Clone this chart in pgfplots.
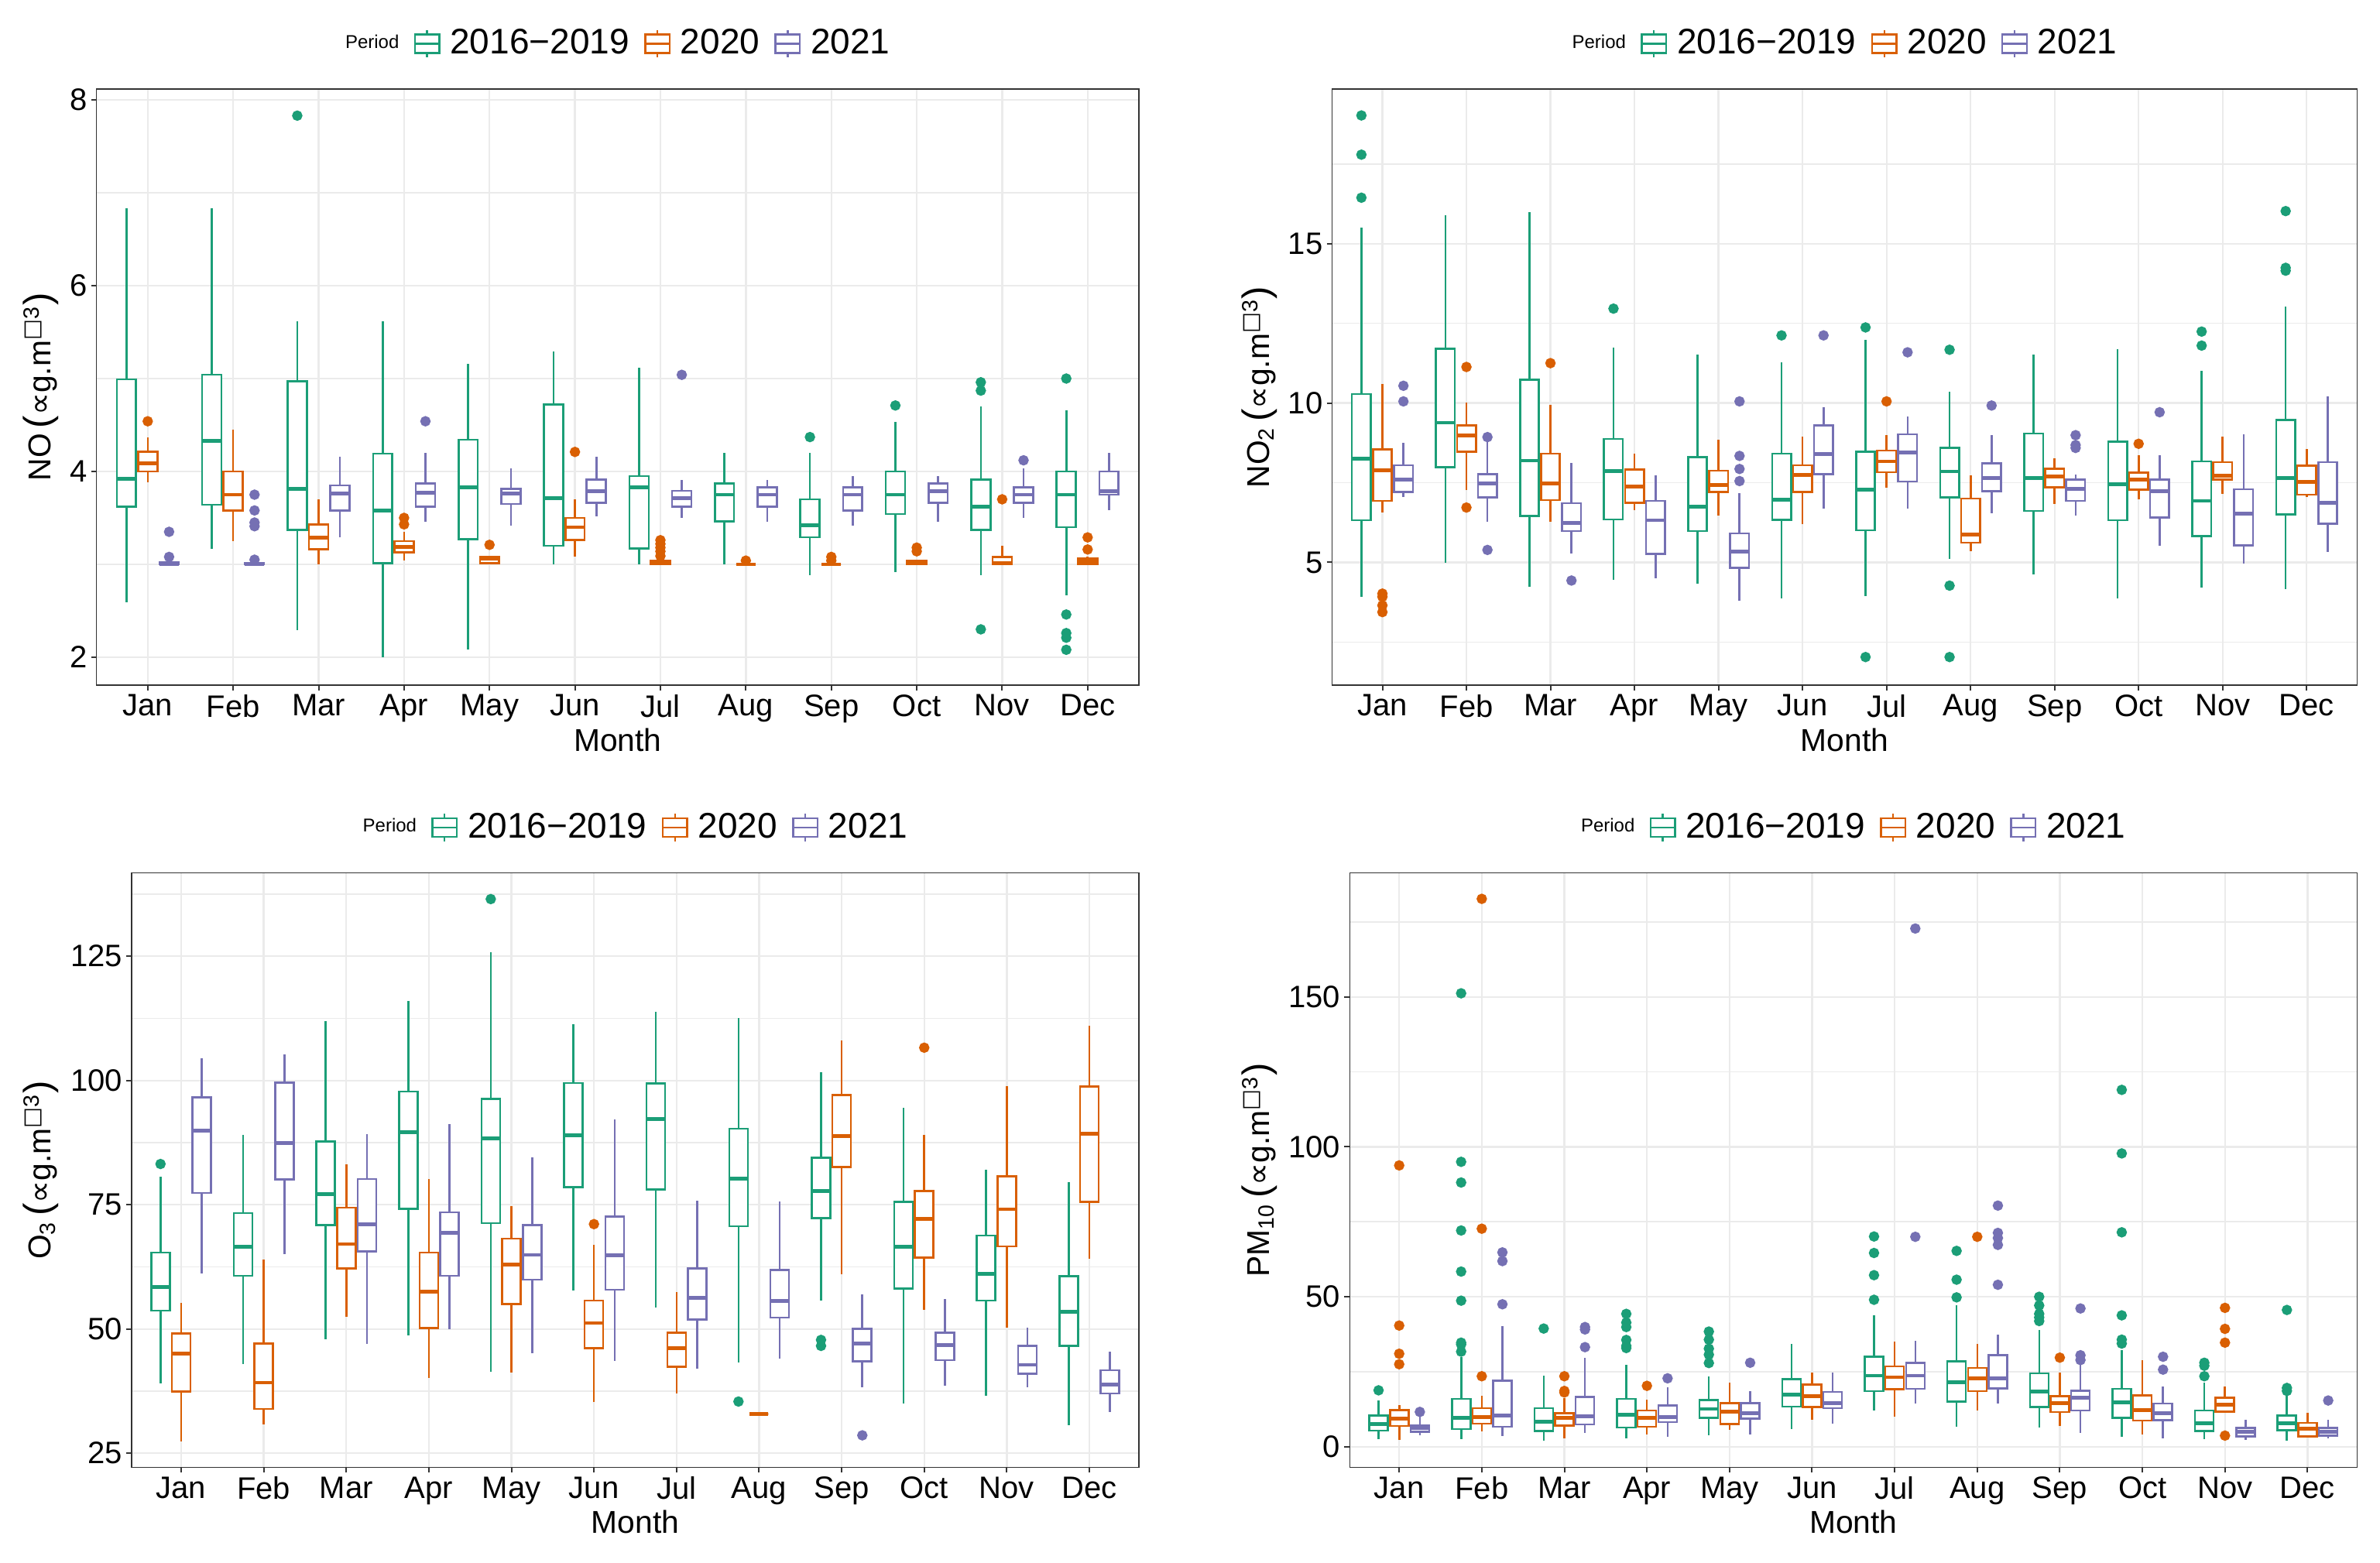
\documentclass[border=0pt]{standalone}
\usepackage{fontspec}
\setmainfont{Liberation Sans}
\newfontfamily\dv{DejaVu Sans}
\usepackage{pgfplots}
\pgfplotsset{compat=1.18}
\usepgfplotslibrary{statistics}
\definecolor{c1}{HTML}{1B9E77}
\definecolor{c2}{HTML}{D95F02}
\definecolor{c3}{HTML}{7570B3}
\definecolor{g20}{gray}{0.2}
\definecolor{g92}{gray}{0.92}
\newcommand{\unitlab}{{\fontsize{12.3}{12}\selectfont (}{\dv ∝}g.m\textsuperscript{{\dv □}3}{\fontsize{12.3}{12}\selectfont )}}
\newcommand{\bx}[7]{\addplot[#1, line width=0.65pt, mark=*, mark size=1.35pt, mark options={draw=none,fill=#1}, boxplot prepared={draw position=#2, lower whisker=#3, lower quartile=#4, median=#5, upper quartile=#6, upper whisker=#7}] coordinates {};}
\newcommand{\bxo}[8]{\addplot[#1, line width=0.65pt, mark=*, mark size=1.35pt, mark options={draw=none,fill=#1}, boxplot prepared={draw position=#2, lower whisker=#3, lower quartile=#4, median=#5, upper quartile=#6, upper whisker=#7}] table[row sep=\\, y index=0, header=false] {#8};}
\newcommand{\legbox}[1]{\draw[#1,line width=0.6pt] (0pt,-3pt) rectangle (7.9pt,3pt) (0pt,0pt)--(7.9pt,0pt) (3.95pt,3pt)--(3.95pt,4.4pt) (3.95pt,-3pt)--(3.95pt,-4.4pt);}
\newcommand{\periodlegend}{%
\addlegendimage{empty legend}\addlegendentry{\fontsize{6}{7}\selectfont Period}%
\addlegendimage{legend image code/.code={\legbox{c1}}}\addlegendentry{2016−2019}%
\addlegendimage{legend image code/.code={\legbox{c2}}}\addlegendentry{2020}%
\addlegendimage{legend image code/.code={\legbox{c3}}}\addlegendentry{2021}}
\pgfplotsset{panel/.style={
  scale only axis, anchor=south west,
  xmin=0.4, xmax=12.6,
  xtick={1,2,3,4,5,6,7,8,9,10,11,12},
  xticklabels={Jan,Feb,Mar,Apr,May,Jun,Jul,Aug,Sep,Oct,Nov,Dec},
  xmajorgrids, ymajorgrids, yminorgrids,
  major grid style={color=g92, line width=0.58pt},
  minor grid style={color=g92, line width=0.4pt},
  axis line style={color=g20, line width=0.35pt},
  tick style={color=g20, line width=0.5pt},
  tick align=outside, major tick length=1.7pt, minor tick length=0pt,
  tick pos=left,
  /pgf/number format/assume math mode=true,
  tick label style={font=\fontsize{10}{11}\selectfont, text=black},
  xticklabel style={yshift=2.2pt},
  yticklabel style={xshift=2.2pt},
  label style={font=\fontsize{10.2}{12}\selectfont},
  xlabel={Month},
  xlabel style={at={(axis description cs:0.5,0)}, anchor=base, yshift=-21.3pt},
  boxplot/draw direction=y,
  boxplot/box extend=0.225, boxplot/whisker extend=0,
  boxplot/every box/.append style={fill=white},
  boxplot/every median/.append style={line width=1.2pt},
  legend columns=-1,
  legend style={at={(0.5,1)}, anchor=center, yshift=14.6pt, draw=none, fill=none,
    font=\fontsize{11.5}{13}\selectfont, nodes={inner ysep=1.5pt, inner xsep=3.2pt},
    /tikz/every even column/.append style={column sep=1.6pt}},
}}
\begin{document}
\begin{tikzpicture}
\useasboundingbox (0,0) rectangle (768.5pt,504.75pt);
% ---------------- NO ----------------
\begin{axis}[panel, at={(31.15pt,283.5pt)}, width=336.6pt, height=192.5pt,
  ymin=1.70, ymax=8.117, ytick={2,4,6,8}, minor ytick={3,5,7},
  ylabel={NO\,\unitlab}, ylabel style={at={(axis description cs:-0.044,0.5)}, anchor=base, inner sep=0pt}]
\periodlegend
\bx{c1}{0.75}{2.59}{3.62}{3.92}{4.99}{6.83}
\bxo{c2}{1}{3.88}{4.0}{4.09}{4.21}{4.37}{4.54\\}
\bxo{c3}{1.25}{3.0}{3.0}{3.0}{3.02}{3.02}{3.35\\3.08\\}
\bx{c1}{1.75}{3.17}{3.64}{4.33}{5.04}{6.83}
\bx{c2}{2}{3.25}{3.58}{3.75}{4.0}{4.45}
\bxo{c3}{2.25}{3.0}{3.0}{3.0}{3.01}{3.01}{3.75\\3.58\\3.45\\3.41\\3.05\\}
\bxo{c1}{2.75}{2.29}{3.37}{3.81}{4.97}{5.62}{7.83\\}
\bx{c2}{3}{3.0}{3.16}{3.29}{3.43}{3.70}
\bx{c3}{3.25}{3.29}{3.58}{3.76}{3.85}{4.16}
\bx{c1}{3.75}{2.0}{3.01}{3.58}{4.19}{5.62}
\bxo{c2}{4}{3.04}{3.13}{3.19}{3.25}{3.35}{3.50\\3.43\\}
\bxo{c3}{4.25}{3.46}{3.62}{3.77}{3.87}{4.20}{4.54\\}
\bx{c1}{4.75}{2.08}{3.27}{3.83}{4.34}{5.16}
\bxo{c2}{5}{3.0}{3.01}{3.06}{3.08}{3.08}{3.21\\}
\bx{c3}{5.25}{3.42}{3.65}{3.76}{3.81}{4.03}
\bx{c1}{5.75}{3.0}{3.20}{3.71}{4.72}{5.29}
\bxo{c2}{6}{3.08}{3.26}{3.40}{3.50}{3.70}{4.21\\}
\bx{c3}{6.25}{3.52}{3.66}{3.79}{3.91}{4.16}
\bx{c1}{6.75}{3.0}{3.17}{3.83}{3.95}{5.12}
\bxo{c2}{7}{3.0}{3.0}{3.02}{3.04}{3.06}{3.26\\3.22\\3.18\\3.14\\3.09\\}
\bxo{c3}{7.25}{3.50}{3.62}{3.71}{3.79}{3.91}{5.04\\}
\bx{c1}{7.75}{3.0}{3.46}{3.75}{3.87}{4.20}
\bxo{c2}{8}{3.0}{3.0}{3.0}{3.0}{3.0}{3.04\\}
\bx{c3}{8.25}{3.46}{3.62}{3.75}{3.83}{3.91}
\bxo{c1}{8.75}{2.88}{3.29}{3.42}{3.70}{4.20}{4.37\\}
\bxo{c2}{9}{3.0}{3.0}{3.0}{3.0}{3.0}{3.08\\3.04\\}
\bx{c3}{9.25}{3.42}{3.58}{3.75}{3.83}{3.95}
\bxo{c1}{9.75}{2.92}{3.54}{3.75}{4.0}{4.53}{4.71\\}
\bxo{c2}{10}{3.0}{3.0}{3.02}{3.04}{3.04}{3.18\\3.14\\}
\bx{c3}{10.25}{3.46}{3.66}{3.79}{3.87}{3.95}
\bxo{c1}{10.75}{2.88}{3.37}{3.62}{3.91}{4.70}{4.96\\4.87\\2.30\\}
\bxo{c2}{11}{3.0}{3.0}{3.01}{3.08}{3.20}{3.70\\}
\bxo{c3}{11.25}{3.50}{3.66}{3.75}{3.83}{4.03}{4.12\\}
\bxo{c1}{11.75}{2.67}{3.40}{3.75}{4.0}{4.66}{5.0\\2.46\\2.26\\2.21\\2.08\\}
\bxo{c2}{12}{3.0}{3.0}{3.03}{3.06}{3.08}{3.29\\3.16\\}
\bx{c3}{12.25}{3.58}{3.75}{3.79}{4.0}{4.20}
\end{axis}
% ---------------- NO2 ----------------
\begin{axis}[panel, at={(430.1pt,283.5pt)}, width=331pt, height=192.5pt,
  ymin=1.15, ymax=19.85, ytick={5,10,15}, minor ytick={2.5,7.5,12.5,17.5},
  ylabel={NO\textsubscript{2}\,\unitlab}, ylabel style={at={(axis description cs:-0.0615,0.5)}, anchor=base, inner sep=0pt}]
\periodlegend
\bxo{c1}{0.75}{3.92}{6.32}{8.25}{10.28}{15.51}{19.02\\17.79\\16.44\\}
\bxo{c2}{1}{6.56}{6.93}{7.89}{8.54}{10.59}{4.02\\3.92\\3.65\\3.44\\}
\bxo{c3}{1.25}{7.04}{7.21}{7.59}{8.05}{8.75}{10.54\\10.05\\}
\bx{c1}{1.75}{4.98}{7.99}{9.38}{11.70}{15.88}
\bxo{c2}{2}{7.28}{8.47}{8.98}{9.30}{10.02}{11.13\\6.72\\}
\bxo{c3}{2.25}{6.28}{7.04}{7.48}{7.76}{8.8}{8.93\\5.39\\}
\bx{c1}{2.75}{4.24}{6.46}{8.19}{10.73}{15.98}
\bxo{c2}{3}{6.28}{6.95}{7.48}{8.41}{9.95}{11.25\\}
\bxo{c3}{3.25}{5.28}{5.98}{6.24}{6.86}{8.11}{4.43\\}
\bxo{c1}{3.75}{4.44}{6.35}{7.86}{8.87}{11.73}{12.96\\}
\bx{c2}{4}{6.63}{6.87}{7.38}{7.91}{8.41}
\bx{c3}{4.25}{4.50}{5.26}{6.32}{6.93}{7.74}
\bx{c1}{4.75}{4.33}{5.98}{6.75}{8.30}{11.53}
\bx{c2}{5}{6.46}{7.21}{7.43}{7.88}{8.84}
\bxo{c3}{5.25}{3.79}{4.83}{5.33}{5.91}{7.17}{10.05\\8.34\\7.93\\7.55\\}
\bxo{c1}{5.75}{3.87}{6.33}{6.97}{8.41}{11.27}{12.12\\}
\bx{c2}{6}{6.19}{7.21}{7.74}{8.05}{8.95}
\bxo{c3}{6.25}{6.69}{7.76}{8.39}{9.30}{9.86}{12.12\\}
\bxo{c1}{6.75}{3.95}{6.01}{7.29}{8.47}{11.98}{12.37\\2.03\\}
\bxo{c2}{7}{7.35}{7.83}{8.17}{8.51}{8.99}{10.05\\}
\bxo{c3}{7.25}{6.69}{7.54}{8.44}{9.02}{9.57}{11.59\\}
\bxo{c1}{7.75}{5.11}{7.04}{7.85}{8.59}{10.36}{11.67\\4.27\\2.03\\}
\bx{c2}{8}{5.34}{5.62}{5.88}{7.0}{7.74}
\bxo{c3}{8.25}{6.55}{7.23}{7.65}{8.10}{8.99}{9.92\\}
\bx{c1}{8.75}{4.63}{6.61}{7.65}{9.04}{11.53}
\bx{c2}{9}{6.84}{7.35}{7.69}{7.94}{8.27}
\bxo{c3}{9.25}{6.47}{6.93}{7.31}{7.59}{7.76}{8.99\\8.68\\8.59\\}
\bx{c1}{9.75}{3.87}{6.32}{7.46}{8.79}{11.69}
\bxo{c2}{10}{6.98}{7.28}{7.59}{7.82}{8.36}{8.72\\}
\bxo{c3}{10.25}{5.53}{6.41}{7.23}{7.59}{8.36}{9.71\\}
\bxo{c1}{10.75}{4.20}{5.82}{6.93}{8.17}{11.02}{12.24\\11.80\\}
\bx{c2}{11}{7.15}{7.60}{7.72}{8.14}{8.95}
\bx{c3}{11.25}{4.95}{5.54}{6.52}{7.29}{9.02}
\bxo{c1}{11.75}{4.16}{6.50}{7.65}{9.46}{13.02}{16.02\\14.24\\14.15\\}
\bx{c2}{12}{7.04}{7.12}{7.52}{8.03}{8.56}
\bx{c3}{12.25}{5.33}{6.21}{6.86}{8.14}{10.20}
\end{axis}
% ---------------- O3 ----------------
\begin{axis}[panel, at={(42.5pt,30.9pt)}, width=325.25pt, height=192pt,
  ymin=22.17, ymax=141.8, ytick={25,50,75,100,125}, minor ytick={37.5,62.5,87.5,112.5,137.5},
  ylabel={O\textsubscript{3}\,\unitlab}, ylabel style={at={(axis description cs:-0.0804,0.5)}, anchor=base, inner sep=0pt}]
\periodlegend
\bxo{c1}{0.75}{39.0}{53.7}{58.4}{65.4}{80.6}{83.2\\}
\bx{c2}{1}{27.4}{37.4}{45.0}{49.1}{55.2}
\bx{c3}{1.25}{61.2}{77.4}{89.9}{96.6}{104.5}
\bx{c1}{1.75}{42.9}{60.7}{66.6}{73.3}{89.1}
\bx{c2}{2}{30.8}{33.9}{39.2}{47.1}{64.0}
\bx{c3}{2.25}{65.0}{80.1}{87.4}{99.6}{105.3}
\bx{c1}{2.75}{48.0}{70.9}{77.1}{87.7}{111.9}
\bx{c2}{3}{52.5}{62.2}{67.1}{74.4}{83.2}
\bx{c3}{3.25}{47.0}{65.6}{71.1}{80.2}{89.2}
\bx{c1}{3.75}{48.7}{74.2}{89.6}{97.8}{116.0}
\bx{c2}{4}{40.1}{50.2}{57.5}{65.4}{80.1}
\bx{c3}{4.25}{49.9}{60.7}{69.3}{73.5}{91.3}
\bxo{c1}{4.75}{41.4}{71.3}{88.3}{96.3}{125.8}{136.5\\}
\bx{c2}{5}{41.2}{55.0}{63.0}{68.2}{74.8}
\bx{c3}{5.25}{45.1}{59.9}{64.9}{70.9}{84.5}
\bx{c1}{5.75}{57.7}{78.5}{89.0}{99.5}{111.4}
\bxo{c2}{6}{35.3}{46.1}{51.2}{55.7}{67.0}{71.1\\}
\bx{c3}{6.25}{43.5}{57.9}{64.8}{72.6}{92.1}
\bx{c1}{6.75}{54.3}{78.1}{92.3}{99.4}{113.8}
\bx{c2}{7}{37.0}{42.4}{46.1}{49.3}{57.5}
\bx{c3}{7.25}{42.0}{51.9}{56.3}{62.2}{75.8}
\bxo{c1}{7.75}{43.2}{70.7}{80.3}{90.3}{112.6}{35.4\\}
\bx{c2}{8}{32.9}{32.9}{32.9}{32.9}{32.9}
\bx{c3}{8.25}{44.0}{52.3}{55.6}{61.9}{75.7}
\bxo{c1}{8.75}{55.7}{72.3}{77.8}{84.5}{101.6}{47.8\\46.6\\}
\bx{c2}{9}{61.0}{82.6}{88.8}{97.1}{108.0}
\bxo{c3}{9.25}{38.3}{43.5}{47.1}{50.0}{57.0}{28.6\\}
\bx{c1}{9.75}{35.0}{58.1}{66.5}{75.6}{94.5}
\bxo{c2}{10}{53.9}{64.4}{72.1}{77.8}{89.1}{106.6\\}
\bx{c3}{10.25}{38.6}{43.7}{46.8}{49.3}{56.0}
\bx{c1}{10.75}{36.5}{55.7}{61.1}{68.8}{82.0}
\bx{c2}{11}{50.2}{66.6}{74.1}{80.7}{98.9}
\bx{c3}{11.25}{38.2}{41.0}{42.8}{46.6}{50.2}
\bx{c1}{11.75}{30.6}{46.6}{53.5}{60.6}{79.5}
\bx{c2}{12}{64.2}{75.6}{89.3}{98.8}{111.0}
\bx{c3}{12.25}{33.3}{37.0}{38.8}{41.7}{45.5}
\end{axis}
% ---------------- PM10 ----------------
\begin{axis}[panel, at={(435.8pt,30.9pt)}, width=325.3pt, height=192pt,
  ymin=-6.87, ymax=191.4, ytick={0,50,100,150}, minor ytick={25,75,125,175},
  ylabel={PM\textsubscript{10}\,\unitlab}, ylabel style={at={(axis description cs:-0.080,0.5)}, anchor=base, inner sep=0pt}]
\periodlegend
\bxo{c1}{0.75}{2.5}{5.4}{7.6}{10.4}{15.4}{18.8\\}
\bxo{c2}{1}{2.3}{6.9}{9.4}{12.2}{13.8}{93.8\\40.4\\31.0\\27.5\\}
\bxo{c3}{1.25}{3.9}{5.0}{6.2}{7.2}{10.4}{11.6\\}
\bxo{c1}{1.75}{2.5}{5.9}{9.7}{15.9}{30.0}{151.2\\95.0\\88.1\\72.1\\58.4\\48.7\\34.7\\34.1\\31.7\\}
\bxo{c2}{2}{5.0}{7.7}{9.9}{12.8}{17.1}{182.7\\72.7\\23.5\\}
\bxo{c3}{2.25}{3.5}{6.7}{10.4}{22.0}{40.1}{64.8\\61.9\\47.5\\}
\bxo{c1}{2.75}{2.0}{5.2}{8.4}{12.8}{23.7}{39.4\\}
\bxo{c2}{3}{2.9}{7.0}{9.6}{11.2}{16.3}{23.5\\18.6\\18.1\\}
\bxo{c3}{3.25}{4.7}{7.4}{10.2}{16.6}{29.7}{39.9\\39.1\\33.2\\}
\bxo{c1}{3.75}{2.9}{6.4}{10.6}{15.9}{27.3}{44.3\\41.4\\39.9\\35.6\\33.6\\32.9\\}
\bxo{c2}{4}{4.0}{6.7}{9.6}{12.1}{15.8}{20.3\\}
\bxo{c3}{4.25}{3.2}{8.2}{9.9}{13.8}{19.8}{22.8\\}
\bxo{c1}{4.75}{3.7}{9.6}{12.6}{15.6}{23.5}{38.4\\35.7\\32.7\\30.7\\27.9\\}
\bx{c2}{5}{5.5}{7.6}{11.7}{14.6}{21.3}
\bxo{c3}{5.25}{4.2}{9.4}{11.2}{14.6}{18.6}{28.0\\}
\bx{c1}{5.75}{5.9}{13.4}{17.3}{22.5}{34.2}
\bx{c2}{6}{9.1}{13.3}{16.9}{20.8}{24.8}
\bx{c3}{6.25}{7.7}{12.9}{14.6}{18.3}{24.7}
\bxo{c1}{6.75}{12.2}{18.5}{23.7}{30.0}{43.8}{70.1\\64.6\\57.2\\49.0\\}
\bx{c2}{7}{10.1}{19.1}{23.2}{26.8}{35.1}
\bxo{c3}{7.25}{14.4}{19.3}{23.7}{28.0}{35.4}{172.8\\70.0\\}
\bxo{c1}{7.75}{6.7}{15.1}{21.6}{28.5}{47.1}{65.3\\55.7\\49.8\\}
\bxo{c2}{8}{12.1}{18.5}{22.8}{26.3}{34.2}{70.0\\}
\bxo{c3}{8.25}{14.4}{19.5}{22.8}{30.5}{37.4}{80.4\\71.3\\69.6\\67.3\\54.0\\}
\bxo{c1}{8.75}{6.4}{13.3}{18.5}{24.5}{38.9}{50.0\\47.1\\44.3\\43.1\\41.9\\}
\bxo{c2}{9}{6.9}{11.6}{14.6}{16.9}{24.7}{29.7\\}
\bxo{c3}{9.25}{4.7}{12.1}{16.4}{18.6}{28.0}{46.1\\30.5\\28.9\\}
\bxo{c1}{9.75}{3.2}{9.6}{14.8}{19.3}{32.2}{119.0\\97.8\\71.5\\43.8\\35.7\\34.4\\}
\bx{c2}{10}{4.2}{8.7}{12.2}{17.1}{28.9}
\bxo{c3}{10.25}{2.9}{8.9}{11.1}{14.4}{20.0}{30.0\\25.7\\}
\bxo{c1}{10.75}{2.5}{5.2}{7.9}{12.1}{21.3}{28.0\\27.0\\23.5\\}
\bxo{c2}{11}{11.5}{11.7}{14.1}{16.4}{20.1}{46.3\\39.3\\34.7\\3.7\\}
\bx{c3}{11.25}{2.3}{3.4}{4.9}{6.2}{8.9}
\bxo{c1}{11.75}{2.0}{5.5}{7.9}{10.4}{17.6}{45.6\\19.6\\18.6\\}
\bx{c2}{12}{3.5}{3.5}{6.0}{7.9}{11.2}
\bxo{c3}{12.25}{2.9}{3.7}{4.9}{6.2}{9.1}{15.4\\}
\end{axis}
\end{tikzpicture}
\end{document}
